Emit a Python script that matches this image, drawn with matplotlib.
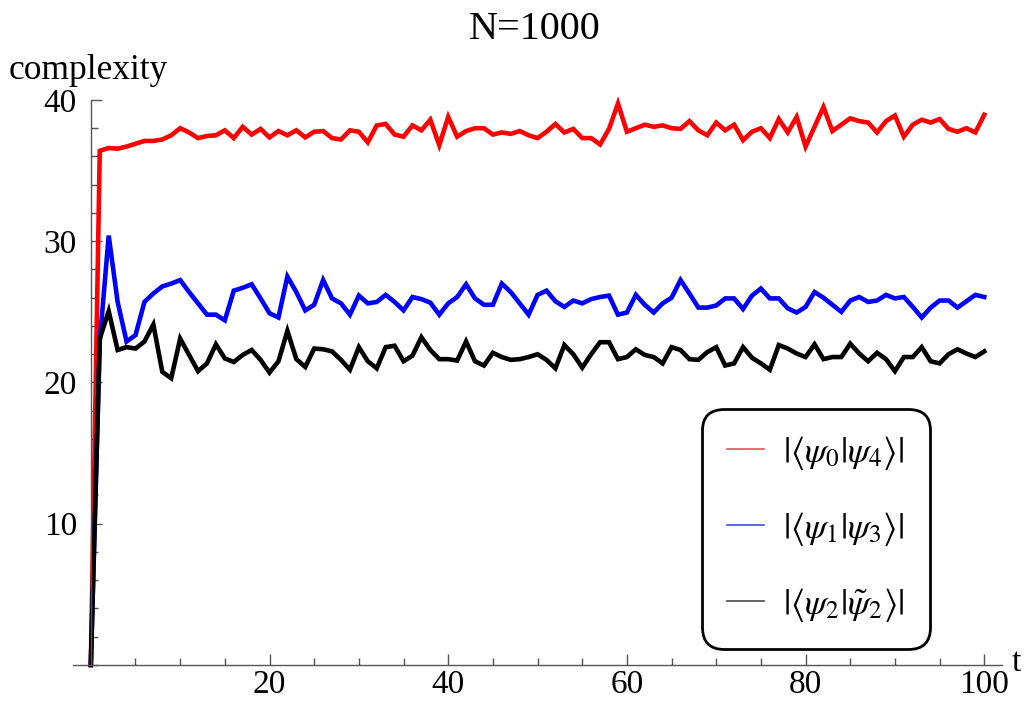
import matplotlib
matplotlib.use("Agg")
import matplotlib.pyplot as plt
from matplotlib.lines import Line2D
from matplotlib.ticker import MultipleLocator

plt.rcParams['font.family'] = ['Liberation Serif', 'DejaVu Serif']
plt.rcParams['mathtext.fontset'] = 'stix'

t = list(range(101))

psi04 = [0, 36.4, 36.6, 36.55, 36.7, 36.9, 37.1, 37.1, 37.2, 37.5,
         38.0, 37.7, 37.3, 37.45, 37.5, 37.85, 37.3, 38.1, 37.55, 37.95,
         37.35, 37.8, 37.5, 37.85, 37.35, 37.75, 37.8, 37.3, 37.2, 37.85,
         37.75, 37.0, 38.2, 38.3, 37.55, 37.4, 38.2, 37.85, 38.6, 36.8,
         38.8, 37.4, 37.8, 38.0, 38.0, 37.55, 37.7, 37.6, 37.8, 37.5,
         37.3, 37.75, 38.3, 37.7, 37.95, 37.3, 37.3, 36.85, 37.95, 39.75,
         37.75, 38.0, 38.25, 38.1, 38.2, 38.0, 37.95, 38.5, 37.85, 37.5,
         38.4, 37.85, 38.25, 37.15, 37.75, 38.0, 37.3, 38.65, 37.7, 38.8,
         36.7, 38.1, 39.5, 37.8, 38.25, 38.7, 38.5, 38.4, 37.7, 38.5,
         38.9, 37.4, 38.25, 38.6, 38.4, 38.65, 37.95, 37.75, 38.0, 37.7,
         38.95]

psi13 = [0, 22.9, 30.4, 25.7, 22.9, 23.35, 25.7, 26.3, 26.8, 27.0,
         27.25, 26.4, 25.6, 24.8, 24.8, 24.4, 26.5, 26.7, 26.95, 25.95,
         24.9, 24.6, 27.5, 26.4, 25.1, 25.5, 27.25, 25.95, 25.6, 24.8,
         26.15, 25.6, 25.7, 26.2, 25.7, 25.1, 26.05, 25.9, 25.65, 24.8,
         25.6, 26.05, 26.95, 25.95, 25.5, 25.5, 27.0, 26.4, 25.6, 24.8,
         26.2, 26.5, 25.75, 25.35, 25.8, 25.6, 25.9, 26.05, 26.15, 24.8,
         24.95, 26.2, 25.5, 24.95, 25.6, 26.0, 27.25, 26.3, 25.3, 25.3,
         25.45, 25.95, 25.95, 25.2, 26.15, 26.65, 25.95, 25.95, 25.25, 24.95,
         25.35, 26.4, 26.0, 25.5, 25.0, 25.8, 26.05, 25.7, 25.8, 26.2,
         25.95, 26.05, 25.35, 24.6, 25.3, 25.8, 25.8, 25.3, 25.75, 26.2,
         26.05]

psi22 = [0, 23.1, 25.05, 22.3, 22.5, 22.4, 22.9, 24.1, 20.75, 20.3,
         23.1, 21.95, 20.8, 21.35, 22.7, 21.7, 21.45, 21.95, 22.3, 21.6,
         20.7, 21.5, 23.65, 21.65, 21.1, 22.4, 22.35, 22.2, 21.6, 20.9,
         22.5, 21.5, 21.0, 22.5, 22.6, 21.5, 21.9, 23.2, 22.3, 21.65,
         21.65, 21.55, 22.9, 21.5, 21.2, 22.1, 21.8, 21.6, 21.65, 21.8,
         22.0, 21.6, 21.0, 22.65, 22.0, 21.05, 22.0, 22.85, 22.85, 21.65,
         21.8, 22.35, 21.95, 21.8, 21.35, 22.5, 22.3, 21.65, 21.6, 22.15,
         22.5, 21.2, 21.35, 22.5, 21.75, 21.35, 20.9, 22.65, 22.4, 22.05,
         21.8, 22.7, 21.65, 21.8, 21.8, 22.75, 22.05, 21.5, 22.1, 21.65,
         20.8, 21.8, 21.8, 22.5, 21.5, 21.35, 22.0, 22.35, 22.05, 21.8,
         22.2]

labels = [r'$|\langle\psi_0|\psi_4\rangle|$',
          r'$|\langle\psi_1|\psi_3\rangle|$',
          r'$|\langle\psi_2|\tilde{\psi}_2\rangle|$']
colors = ['#ff0000', '#0000ff', '#000000']
legend_colors = ['#f04c5c', '#3c4cf0', '#4a4a4a']

fig = plt.figure(figsize=(10.29, 7.01), dpi=100)
ax = fig.add_axes([0.0709, 0.0514, 0.903, 0.806])

for y, c in zip([psi04, psi13, psi22], colors):
    ax.plot(t, y, color=c, lw=3.3, solid_joinstyle='miter', clip_on=False)

ax.set_xlim(-2, 102)
ax.set_ylim(0, 40)

# axes through the origin, like the Mathematica original
for s in ['top', 'right']:
    ax.spines[s].set_visible(False)
ax.spines['left'].set_position(('data', 0))
for s in ['left', 'bottom']:
    ax.spines[s].set_color('#555555')
    ax.spines[s].set_linewidth(1)

ax.xaxis.set_minor_locator(MultipleLocator(5))
ax.yaxis.set_minor_locator(MultipleLocator(2))
ax.set_xticks([20, 40, 60, 80, 100])
ax.set_yticks([10, 20, 30, 40])
ax.tick_params(which='both', direction='in', color='#555555', width=1,
               labelsize=24)
ax.tick_params(which='major', length=8)
ax.tick_params(which='minor', length=5)
ax.tick_params(axis='x', pad=3)
ax.tick_params(axis='y', pad=10)

fig.text(0.52, 0.958, 'N=1000', fontsize=29, ha='center', va='center')
fig.text(0.008, 0.9, 'complexity', fontsize=25.5, ha='left', va='center')
fig.text(0.983, 0.055, 't', fontsize=24, ha='left', va='center')

handles = [Line2D([0], [0], color=c, lw=1.2) for c in legend_colors]
leg = ax.legend(handles, labels, loc='lower left',
                bbox_to_anchor=(0.683, 0.038), fontsize=26,
                labelspacing=1.05, handlelength=1.0, handletextpad=0.55,
                borderpad=0.55, borderaxespad=0, fancybox=True,
                framealpha=1, edgecolor='black')
leg.get_frame().set_linewidth(2)
leg.get_frame().set_boxstyle('round', pad=0.15, rounding_size=0.6)

fig.savefig('out.png', dpi=100)
